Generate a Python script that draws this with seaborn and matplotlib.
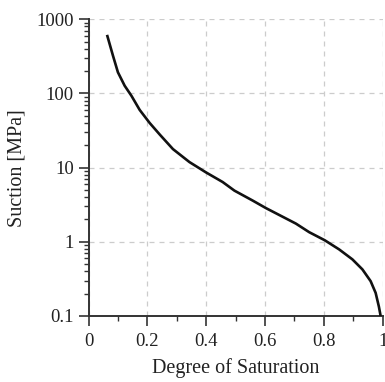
import matplotlib
matplotlib.use("Agg")
import matplotlib.pyplot as plt
import seaborn as sns
import numpy as np
import pandas as pd
from matplotlib.ticker import LogLocator, FixedLocator, NullFormatter

saturation = [0.063, 0.083, 0.100, 0.123, 0.146, 0.174, 0.208, 0.242, 0.287, 0.343,
              0.4, 0.456, 0.496, 0.558, 0.603, 0.705, 0.75, 0.803, 0.852, 0.897,
              0.931, 0.959, 0.976, 0.987, 0.993]
suction = [617, 325, 193, 127, 93, 60, 40, 28, 17.8, 11.9,
           8.6, 6.4, 4.9, 3.6, 2.85, 1.76, 1.35, 1.05, 0.79, 0.58,
           0.425, 0.295, 0.205, 0.134, 0.1]
x_ticks = [0, 0.2, 0.4, 0.6, 0.8, 1.0]
x_tick_labels = ["0", "0.2", "0.4", "0.6", "0.8", "1"]
y_ticks = [0.1, 1, 10, 100, 1000]
y_tick_labels = ["0.1", "1", "10", "100", "1000"]

df = pd.DataFrame({"S": saturation, "suction": suction})

sns.set_style("ticks")
plt.rcParams["font.family"] = ["Liberation Serif", "DejaVu Serif"]

fig = plt.figure(figsize=(3.85, 3.82), dpi=100)
ax = fig.add_axes([88.5/385, 1 - 316/382, (382.7 - 88.5)/385, (316 - 19.3)/382])

sns.lineplot(data=df, x="S", y="suction", ax=ax, sort=False, color="#111111",
             linewidth=1.9, zorder=3, solid_joinstyle="round", solid_capstyle="butt")

ax.set_yscale("log")
ax.set_xlim(0, 1)
ax.set_ylim(0.1, 1000)

ax.xaxis.set_major_locator(FixedLocator(x_ticks))
ax.set_xticklabels(x_tick_labels)
ax.xaxis.set_minor_locator(FixedLocator([0.1, 0.3, 0.5, 0.7, 0.9]))
ax.yaxis.set_major_locator(FixedLocator(y_ticks))
ax.set_yticklabels(y_tick_labels)
ax.yaxis.set_minor_locator(LogLocator(base=10, subs=np.arange(2, 10)))
ax.yaxis.set_minor_formatter(NullFormatter())

ax.grid(True, which="major", color="#cccccc", linestyle=(0, (4, 4)), linewidth=0.9)
ax.set_axisbelow(True)

for s in ["top", "right"]:
    ax.spines[s].set_visible(False)
for s in ["left", "bottom"]:
    ax.spines[s].set_color("#333333")
    ax.spines[s].set_linewidth(1.4)

ax.tick_params(which="major", length=7, width=1.2, color="#333333",
               labelsize=13.5, labelcolor="#222222", direction="out")
ax.tick_params(axis="y", which="major", pad=3.5)
ax.tick_params(axis="x", which="major", pad=5)
ax.tick_params(which="minor", length=3.5, width=1.0, color="#333333", direction="out")

ax.set_xlabel("Degree of Saturation", fontsize=14.5, color="#222222", labelpad=6)
ax.set_ylabel("Suction [MPa]", fontsize=14.5, color="#222222", labelpad=7)

fig.savefig("out.png", dpi=100)
